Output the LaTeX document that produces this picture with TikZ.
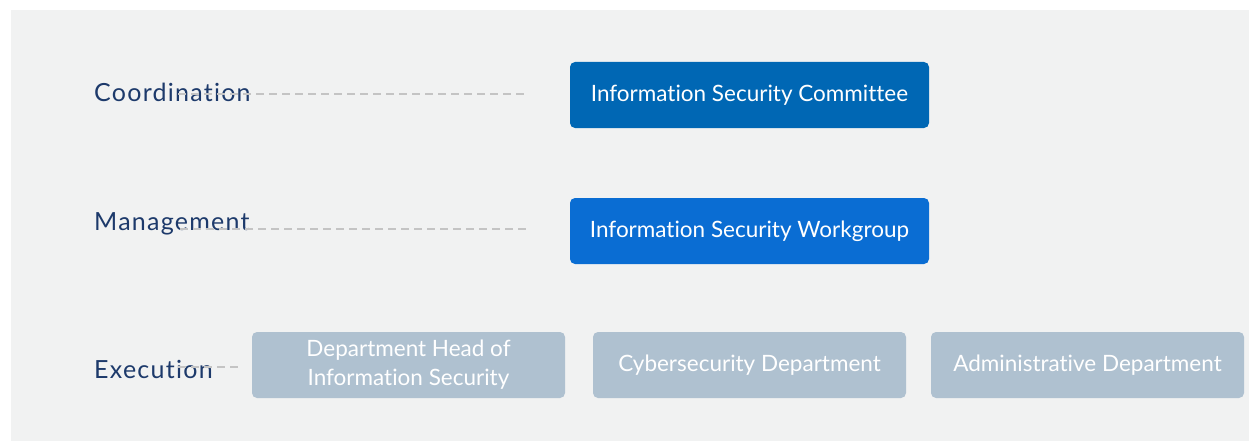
\documentclass[tikz,border=0pt]{standalone}
\usepackage{fontspec}
\setmainfont[Ligatures={NoCommon}]{Lato}
\newfontfamily\labelfont[LetterSpace=5,Ligatures={NoCommon}]{Lato}
\definecolor{bg}{HTML}{F1F2F2}
\definecolor{navy}{HTML}{1D3A6B}
\definecolor{dashgray}{HTML}{C4C4C4}
\definecolor{blueA}{HTML}{0067B4}
\definecolor{blueB}{HTML}{0A6DD3}
\definecolor{grayB}{HTML}{AFC1D0}
\begin{document}
\begin{tikzpicture}[x=1pt,y=-1pt,
  levellabel/.style={anchor=west,text=navy,font=\labelfont\fontsize{25}{28}\selectfont,inner sep=0pt},
  guide/.style={draw=dashgray,line width=1.8pt,dash pattern=on 8pt off 5pt},
  box/.style={rounded corners=5pt,minimum width=359pt,minimum height=66pt,inner sep=0pt,text=white,align=center,font=\fontsize{22.5}{29}\selectfont},
  topbox/.style={box,fill=blueA},
  midbox/.style={box,fill=blueB},
  lowbox/.style={box,fill=grayB,minimum width=313pt}]
\useasboundingbox (0,0) rectangle (1249,441);
\fill[bg] (11,10) rectangle (1249,441);
% level labels
\node[levellabel] (coord) at (94,92) {Coordination};
\node[levellabel] (manag) at (94,224) {Management};
\node[levellabel] (exec) at (94,369) {Execution};
% boxes
\node[topbox] (isc) at (749.5,95) {Information Security Committee};
\node[midbox] (isw) at (749.5,231) {Information Security Workgroup};
\node[lowbox] (dh) at (408.5,365) {Department Head of\\Information Security};
\node[lowbox] (cyb) at (749.5,365) {Cybersecurity Department};
\node[lowbox] (adm) at (1087.5,365) {Administrative Department};
% dashed guides
\coordinate (c1) at (178,94);
\coordinate (c2) at (527,94);
\coordinate (m1) at (180,229);
\coordinate (m2) at (527,229);
\coordinate (e1) at (178,367);
\coordinate (e2) at (242,367);
\draw[guide] (c1) -- (c2);
\draw[guide] (m1) -- (m2);
\draw[guide] (e1) -- (e2);
\end{tikzpicture}
\end{document}
